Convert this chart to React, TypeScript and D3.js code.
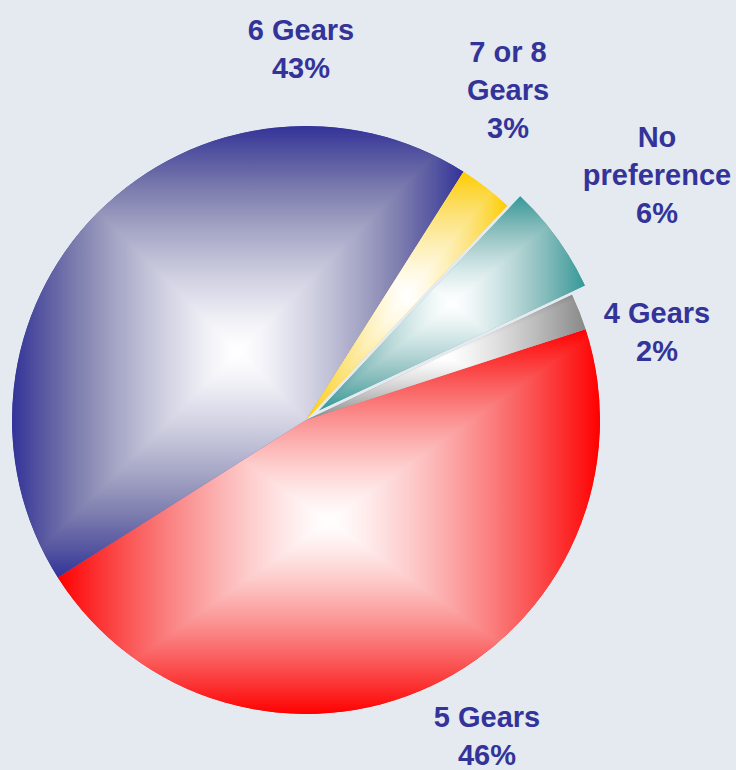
import React from "react";
import * as d3 from "d3";

const categories = ["5 Gears", "6 Gears", "7 or 8 Gears", "No preference", "4 Gears"];
const values = [46, 43, 3, 6, 2];
const labelLines = [
  ["5 Gears", "46%"],
  ["6 Gears", "43%"],
  ["7 or 8", "Gears", "3%"],
  ["No", "preference", "6%"],
  ["4 Gears", "2%"],
];

const sliceColors = ["#FF0000", "#333399", "#FFCC00", "#339999", "#888888"];
const desat = [0.05, 0.3, 0.1, 0.2, 0];
const exploded = [0, 0, 0, 16, 0];
// label layout: center x, first baseline y
const labelLayout = [
  [487, 727],
  [301, 40],
  [508, 62],
  [657, 147],
  [657, 323],
];

const W = 736;
const H = 770;
const CX = 306;
const CY = 420;
const R = 294;
const START = (72 * Math.PI) / 180;
const TEXT = "#333399";
const BG = "#E4EAEF";
const LINE_H = 38;

function pt(cx: number, cy: number, r: number, a: number): [number, number] {
  return [cx + r * Math.sin(a), cy - r * Math.cos(a)];
}

function bbox(cx: number, cy: number, r: number, a0: number, a1: number) {
  const pts: [number, number][] = [[cx, cy], pt(cx, cy, r, a0), pt(cx, cy, r, a1)];
  for (let k = -8; k <= 8; k++) {
    const a = (k * Math.PI) / 2;
    if (a > a0 && a < a1) pts.push(pt(cx, cy, r, a));
  }
  const xs = pts.map((p) => p[0]);
  const ys = pts.map((p) => p[1]);
  return { x0: Math.min(...xs), x1: Math.max(...xs), y0: Math.min(...ys), y1: Math.max(...ys) };
}

function rampColor(base: string, t: number, ds: number) {
  const c = d3.rgb(d3.interpolateRgb("#ffffff", base)(Math.pow(t, 1.3)));
  const lum = 0.3 * c.r + 0.59 * c.g + 0.11 * c.b;
  const f = ds * Math.sin(Math.PI * t);
  return d3.rgb(c.r + (lum - c.r) * f, c.g + (lum - c.g) * f, c.b + (lum - c.b) * f).formatHex();
}

export default function App() {
  const pie = d3
    .pie<number>()
    .sort(null)
    .value((d) => d)
    .startAngle(START)
    .endAngle(START + 2 * Math.PI);
  const arcs = pie(values);
  const arcGen = d3.arc<d3.PieArcDatum<number>>().innerRadius(0).outerRadius(R);
  const offsets = d3.range(0, 1.0001, 0.05);

  const geo = arcs.map((a, i) => {
    const mid = (a.startAngle + a.endAngle) / 2;
    const cx = CX + exploded[i] * Math.sin(mid);
    const cy = CY - exploded[i] * Math.cos(mid);
    const b = bbox(cx, cy, R, a.startAngle, a.endAngle);
    return { cx, cy, b, gx: (b.x0 + b.x1) / 2, gy: (b.y0 + b.y1) / 2 };
  });

  return (
    <div style={{ position: "fixed", left: 0, top: 0 }}>
      <svg width={W} height={H} style={{ display: "block" }}>
        <rect x={0} y={0} width={W} height={H} fill={BG} />
        <defs>
          {arcs.map((a, i) => {
            const { cx, cy, b, gx, gy } = geo[i];
            const stops = offsets.map((o, j) => (
              <stop key={j} offset={o} stopColor={rampColor(sliceColors[i], o, desat[i])} />
            ));
            const dirs = [
              [gx, b.y0],
              [gx, b.y1],
              [b.x0, gy],
              [b.x1, gy],
            ];
            return (
              <React.Fragment key={i}>
                <clipPath id={`clip${i}`}>
                  <path d={arcGen(a) || ""} transform={`translate(${cx},${cy})`} />
                </clipPath>
                {dirs.map((d, k) => (
                  <linearGradient
                    key={k}
                    id={`g${i}_${k}`}
                    gradientUnits="userSpaceOnUse"
                    x1={gx}
                    y1={gy}
                    x2={d[0]}
                    y2={d[1]}
                  >
                    {stops}
                  </linearGradient>
                ))}
              </React.Fragment>
            );
          })}
        </defs>
        {arcs.map((a, i) => {
          const { cx, cy, b, gx, gy } = geo[i];
          const TL = `${b.x0},${b.y0}`;
          const TR = `${b.x1},${b.y0}`;
          const BL = `${b.x0},${b.y1}`;
          const BR = `${b.x1},${b.y1}`;
          const C = `${gx},${gy}`;
          const tris = [
            `${C} ${TL} ${TR}`,
            `${C} ${BL} ${BR}`,
            `${C} ${TL} ${BL}`,
            `${C} ${TR} ${BR}`,
          ];
          return (
            <g key={i} clipPath={`url(#clip${i})`}>
              <path d={arcGen(a) || ""} transform={`translate(${cx},${cy})`} fill={sliceColors[i]} />
              {tris.map((t, k) => (
                <polygon key={k} points={t} fill={`url(#g${i}_${k})`} shapeRendering="crispEdges" />
              ))}
            </g>
          );
        })}
        {labelLines.map((lines, i) => (
          <text
            key={i}
            x={labelLayout[i][0]}
            y={labelLayout[i][1]}
            textAnchor="middle"
            fill={TEXT}
            fontFamily="'Liberation Sans', Arial, sans-serif"
            fontWeight="bold"
            fontSize={29}
          >
            {lines.map((l, j) => (
              <tspan key={j} x={labelLayout[i][0]} dy={j === 0 ? 0 : LINE_H}>
                {l}
              </tspan>
            ))}
          </text>
        ))}
      </svg>
    </div>
  );
}
